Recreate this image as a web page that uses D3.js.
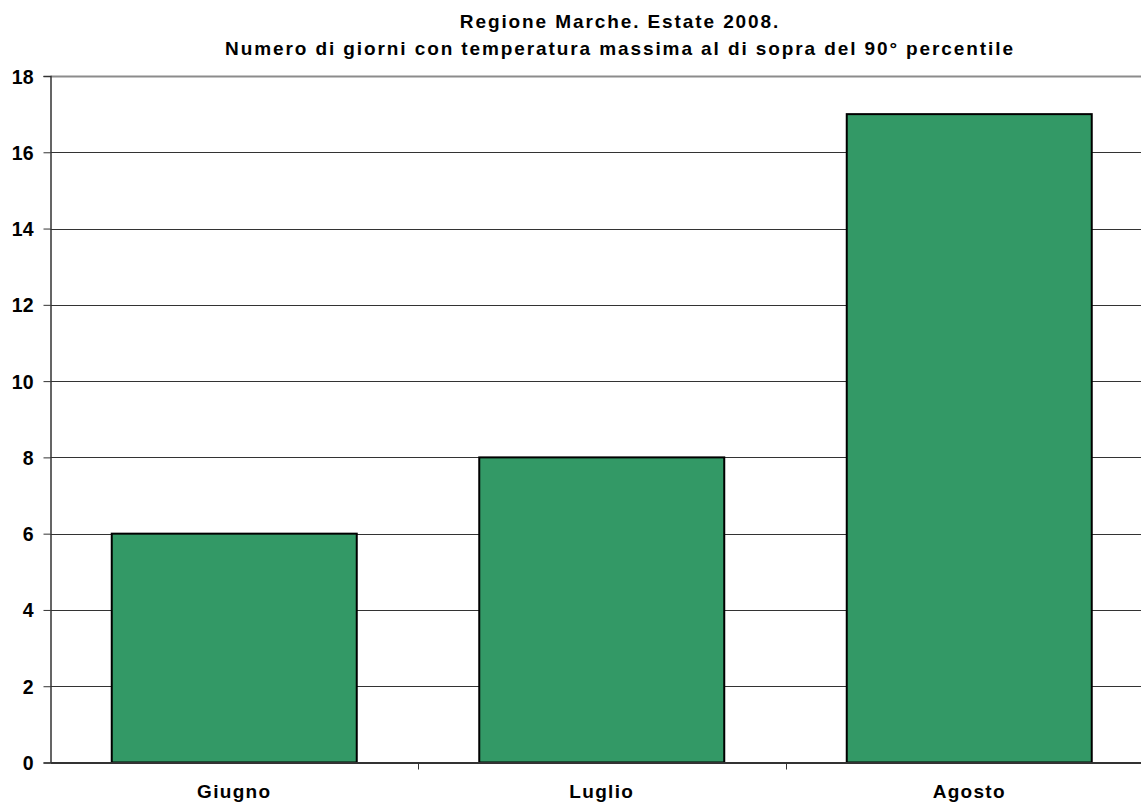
<!DOCTYPE html>
<html>
<head>
<meta charset="utf-8">
<script src="https://cdn.jsdelivr.net/npm/d3@7"></script>
<style>
  body { margin: 0; background: #fff; }
  text { font-family: "Liberation Sans", Arial, sans-serif; font-weight: bold; fill: #000; }
</style>
</head>
<body>
<div id="chart"></div>
<script>
const months = ['Giugno', 'Luglio', 'Agosto'];
const days = [6, 8, 17];
const yTicks = [0, 2, 4, 6, 8, 10, 12, 14, 16, 18];
const titleLines = [
    'Regione Marche. Estate 2008.',
    'Numero di giorni con temperatura massima al di sopra del 90° percentile'
];

const width = 1141, height = 805;
const plotLeft = 50.5, plotTop = 76, plotBottom = 762.5;
const band = 367.5;

const svg = d3.select('#chart')
    .append('svg')
    .attr('width', width)
    .attr('height', height);

const x = d3.scaleBand()
    .domain(months)
    .range([plotLeft, plotLeft + band * months.length])
    .paddingInner(0)
    .paddingOuter(0);

const y = d3.scaleLinear()
    .domain([0, 18])
    .range([plotBottom, plotTop]);

// gridlines
svg.append('g')
    .selectAll('line')
    .data(yTicks.filter((d) => d > 0))
    .join('line')
    .attr('x1', plotLeft)
    .attr('x2', width)
    .attr('y1', (d) => Math.round(y(d)) + 0.5)
    .attr('y2', (d) => Math.round(y(d)) + 0.5)
    .attr('stroke', (d) => d === 18 ? '#8c8c8c' : '#333')
    .attr('stroke-width', (d) => d === 18 ? 2 : 1);

// bars
const barW = 245;
svg.append('g')
    .selectAll('rect')
    .data(months)
    .join('rect')
    .attr('x', (d) => x(d) + (x.bandwidth() - barW) / 2)
    .attr('y', (d, i) => y(days[i]))
    .attr('width', barW)
    .attr('height', (d, i) => y(0) - y(days[i]))
    .attr('fill', '#339966')
    .attr('stroke', '#000')
    .attr('stroke-width', 2);

// y axis
const yAxis = d3.axisLeft(y)
    .tickValues(yTicks)
    .tickSize(7)
    .tickPadding(10);
const gy = svg.append('g')
    .attr('transform', `translate(${plotLeft},0)`)
    .call(yAxis);
gy.select('.domain').attr('stroke', '#333').attr('stroke-width', 1.5);
gy.selectAll('.tick line').attr('stroke', '#333');
gy.selectAll('.tick text')
    .attr('font-size', 19.5)
    .attr('dy', '0.36em')
    .style('font-family', '"Liberation Sans", Arial, sans-serif')
    .style('font-weight', 'bold')
    .attr('fill', '#000');

// x axis
const xAxis = d3.axisBottom(x)
    .tickSize(0)
    .tickPadding(0)
    .tickSizeOuter(0);
const gx = svg.append('g')
    .attr('transform', `translate(0,${plotBottom})`)
    .call(xAxis);
gx.select('.domain').attr('stroke', '#333').attr('stroke-width', 2);
gx.selectAll('.tick text')
    .attr('y', 35.5)
    .attr('dy', 0)
    .attr('font-size', 19)
    .attr('letter-spacing', 1.3)
    .style('font-family', '"Liberation Sans", Arial, sans-serif')
    .style('font-weight', 'bold')
    .attr('fill', '#000');

// category separators
svg.append('g')
    .selectAll('line')
    .data(months.slice(1))
    .join('line')
    .attr('x1', (d) => Math.round(x(d)) + 0.5)
    .attr('x2', (d) => Math.round(x(d)) + 0.5)
    .attr('y1', plotBottom)
    .attr('y2', plotBottom + 7)
    .attr('stroke', '#333');

// title
svg.append('g')
    .selectAll('text')
    .data(titleLines)
    .join('text')
    .attr('x', 620)
    .attr('y', (d, i) => 28 + i * 27)
    .attr('text-anchor', 'middle')
    .attr('font-size', 19)
    .attr('letter-spacing', 1.9)
    .text((d) => d);
</script>
</body>
</html>
